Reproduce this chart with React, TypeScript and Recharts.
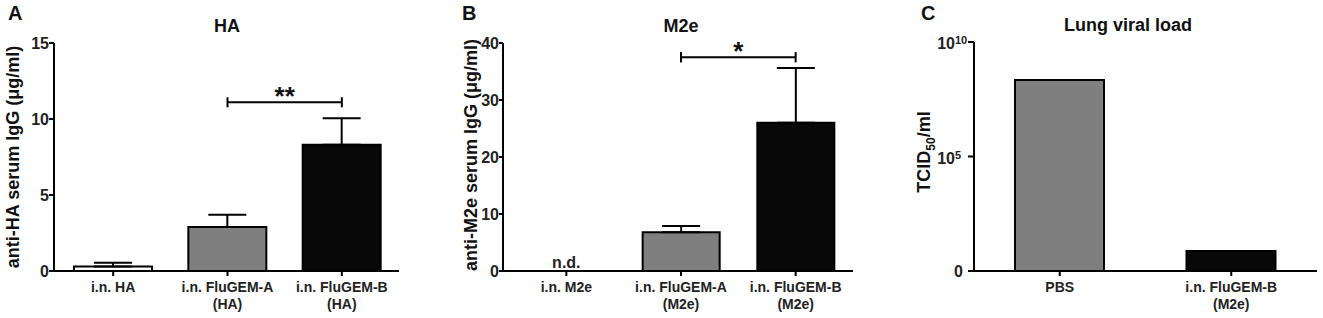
import React from 'react';
import { BarChart, Bar, XAxis, YAxis, Cell, ErrorBar, ReferenceLine, ReferenceDot } from 'recharts';

const FONT = '"Liberation Sans", Arial, Helvetica, sans-serif';

// Panel A – anti-HA serum IgG (µg/ml)
const haCategories = ['i.n. HA', 'i.n. FluGEM-A\n(HA)', 'i.n. FluGEM-B\n(HA)'];
const haMeans = [0.3, 2.9, 8.3];
const haErrors = [0.25, 0.8, 1.75];
const haTicks = [0, 5, 10, 15];
const haBracketLevel = 11.1;

// Panel B – anti-M2e serum IgG (µg/ml); null = not detected
const m2eCategories = ['i.n. M2e', 'i.n. FluGEM-A\n(M2e)', 'i.n. FluGEM-B\n(M2e)'];
const m2eMeans: (number | null)[] = [null, 6.8, 26];
const m2eErrors: (number | null)[] = [null, 1.1, 9.6];
const m2eTicks = [0, 10, 20, 30, 40];
const m2eBracketLevel = 37.5;

// Panel C – lung viral load TCID50/ml
const lungCategories = ['PBS', 'i.n. FluGEM-B\n(M2e)'];
const lungTiters = [2.2e8, 7.5];
const lungTicks = [1, 1e5, 1e10];

const fillsABC = ['#ffffff', '#7f7f7f', '#080808'];
const fillsC = ['#7f7f7f', '#080808'];

const haData = haCategories.map((c, i) => ({ cat: c, v: haMeans[i], err: [0, haErrors[i]] }));
const m2eData = m2eCategories.map((c, i) => ({
  cat: c,
  v: m2eMeans[i],
  err: m2eErrors[i] == null ? null : [0, m2eErrors[i] as number],
}));
const lungData = lungCategories.map((c, i) => ({ cat: c, v: lungTiters[i] }));

const axisStyle = { stroke: '#000', strokeWidth: 2 };

const MultiTick = (props: any) => {
  const { x, y, payload } = props;
  const lines = String(payload.value).split('\n');
  return (
    <text x={x} y={y} textAnchor="middle" fontFamily={FONT} fontWeight="bold" fontSize={14} fill="#222">
      {lines.map((l, i) => (
        <tspan key={i} x={x} dy={i === 0 ? 14 : 17}>
          {l}
        </tspan>
      ))}
    </text>
  );
};

const NumTick = (props: any) => {
  const { x, y, payload } = props;
  return (
    <text x={x} y={y} dy={6} textAnchor="end" fontFamily={FONT} fontWeight="bold" fontSize={16} fill="#222">
      {payload.value}
    </text>
  );
};

const LogTick = (props: any) => {
  const { x, y, payload } = props;
  const v = payload.value as number;
  if (v === 1) {
    return (
      <text x={x - 4} y={y} dy={6} textAnchor="end" fontFamily={FONT} fontWeight="bold" fontSize={16} fill="#222">
        0
      </text>
    );
  }
  const exp = Math.round(Math.log10(v));
  return (
    <g>
      <text x={x - 12} y={y} dy={7} textAnchor="end" fontFamily={FONT} fontWeight="bold" fontSize={16} fill="#222">
        10
      </text>
      <text x={x - 12} y={y} dy={2} textAnchor="start" fontFamily={FONT} fontWeight="bold" fontSize={11} fill="#222">
        {exp}
      </text>
    </g>
  );
};

const starContent = (stars: string) => (props: any) => {
  const vb = props.viewBox || {};
  const cx = (vb.x ?? 0) + (vb.width ?? 0) / 2;
  return (
    <text x={cx} y={(vb.y ?? 0) + 3} textAnchor="middle" fontFamily={FONT} fontWeight="bold" fontSize={26} fill="#111">
      {stars}
    </text>
  );
};

const ndContent = (props: any) => {
  const vb = props.viewBox || {};
  const cx = (vb.x ?? 0) + (vb.width ?? 0) / 2;
  return (
    <text x={cx} y={(vb.y ?? 0) - 3} textAnchor="middle" fontFamily={FONT} fontWeight="bold" fontSize={16} fill="#222">
      n.d.
    </text>
  );
};

const Bracket = ({ a, b, level, half }: { a: string; b: string; level: number; half: number }) => null;

export default function App() {
  const textProps = { fontFamily: FONT, fontWeight: 'bold' as const, fill: '#111' };
  return (
    <div style={{ position: 'absolute', left: 0, top: 0, width: 1323, height: 318, background: '#fff' }}>
      {/* Panel A */}
      <div style={{ position: 'absolute', left: 0, top: 0 }}>
        <BarChart width={440} height={318} data={haData} margin={{ top: 43, right: 41, bottom: 0, left: 0 }}>
          <XAxis dataKey="cat" height={47} axisLine={axisStyle} tickLine={axisStyle} tickSize={5} tickMargin={2} tick={<MultiTick />} interval={0} padding={{ left: 2, right: 0 }} />
          <YAxis width={54} domain={[0, 15]} ticks={haTicks} axisLine={axisStyle} tickLine={axisStyle} tickSize={5} tickMargin={0} tick={<NumTick />} interval={0} />
          <Bar dataKey="v" barSize={78} stroke="#000" strokeWidth={2} isAnimationActive={false}>
            {haData.map((_, i) => (
              <Cell key={i} fill={fillsABC[i]} />
            ))}
            <ErrorBar dataKey="err" width={19} stroke="#000" strokeWidth={2} direction="y" />
          </Bar>
          <ReferenceLine segment={[{ x: haCategories[1], y: haBracketLevel }, { x: haCategories[2], y: haBracketLevel }]} stroke="#000" strokeWidth={2} label={starContent('**')} />
          <ReferenceLine segment={[{ x: haCategories[1], y: haBracketLevel - 0.33 }, { x: haCategories[1], y: haBracketLevel + 0.33 }]} stroke="#000" strokeWidth={2} />
          <ReferenceLine segment={[{ x: haCategories[2], y: haBracketLevel - 0.33 }, { x: haCategories[2], y: haBracketLevel + 0.33 }]} stroke="#000" strokeWidth={2} />
        </BarChart>
      </div>

      {/* Panel B */}
      <div style={{ position: 'absolute', left: 440, top: 0 }}>
        <BarChart width={440} height={318} data={m2eData} margin={{ top: 43, right: 27, bottom: 0, left: 0 }}>
          <XAxis dataKey="cat" height={47} axisLine={axisStyle} tickLine={axisStyle} tickSize={5} tickMargin={2} tick={<MultiTick />} interval={0} padding={{ left: 6, right: 0 }} />
          <YAxis width={63} domain={[0, 40]} ticks={m2eTicks} axisLine={axisStyle} tickLine={axisStyle} tickSize={4} tickMargin={0} tick={<NumTick />} interval={0} />
          <Bar dataKey="v" barSize={77} stroke="#000" strokeWidth={2} isAnimationActive={false}>
            {m2eData.map((_, i) => (
              <Cell key={i} fill={fillsABC[i]} />
            ))}
            <ErrorBar dataKey="err" width={19} stroke="#000" strokeWidth={2} direction="y" />
          </Bar>
          <ReferenceDot x={m2eCategories[0]} y={0} r={0} fill="none" stroke="none" label={ndContent} />
          <ReferenceLine segment={[{ x: m2eCategories[1], y: m2eBracketLevel }, { x: m2eCategories[2], y: m2eBracketLevel }]} stroke="#000" strokeWidth={2} label={starContent('*')} />
          <ReferenceLine segment={[{ x: m2eCategories[1], y: m2eBracketLevel - 0.9 }, { x: m2eCategories[1], y: m2eBracketLevel + 0.9 }]} stroke="#000" strokeWidth={2} />
          <ReferenceLine segment={[{ x: m2eCategories[2], y: m2eBracketLevel - 0.9 }, { x: m2eCategories[2], y: m2eBracketLevel + 0.9 }]} stroke="#000" strokeWidth={2} />
        </BarChart>
      </div>

      {/* Panel C */}
      <div style={{ position: 'absolute', left: 880, top: 0 }}>
        <BarChart width={443} height={318} data={lungData} margin={{ top: 42, right: 6, bottom: 0, left: 0 }}>
          <XAxis dataKey="cat" height={47} axisLine={axisStyle} tickLine={axisStyle} tickSize={5} tickMargin={2} tick={<MultiTick />} interval={0} />
          <YAxis width={94} type="number" scale="log" domain={[1, 1e10]} ticks={lungTicks} allowDataOverflow axisLine={axisStyle} tickLine={axisStyle} tickSize={6} tickMargin={1} tick={<LogTick />} interval={0} />
          <Bar dataKey="v" barSize={89} stroke="#000" strokeWidth={2} isAnimationActive={false}>
            {lungData.map((_, i) => (
              <Cell key={i} fill={fillsC[i]} />
            ))}
          </Bar>
        </BarChart>
      </div>

      {/* Letters, titles and axis titles */}
      <svg width={1323} height={318} style={{ position: 'absolute', left: 0, top: 0, pointerEvents: 'none' }}>
        <text x={8} y={20} fontSize={20} {...textProps}>A</text>
        <text x={462} y={20} fontSize={20} {...textProps}>B</text>
        <text x={921} y={20} fontSize={20} {...textProps}>C</text>

        <text x={227} y={32} fontSize={18} textAnchor="middle" {...textProps}>HA</text>
        <text x={681} y={32} fontSize={18} textAnchor="middle" {...textProps}>M2e</text>
        <text x={1128} y={31} fontSize={18} textAnchor="middle" {...textProps}>Lung viral load</text>

        <text transform="translate(19,157) rotate(-90)" fontSize={18} textAnchor="middle" {...textProps}>
          anti-HA serum IgG (μg/ml)
        </text>
        <text transform="translate(477,155) rotate(-90)" fontSize={18} textAnchor="middle" {...textProps}>
          anti-M2e serum IgG (μg/ml)
        </text>
        <text transform="translate(930,152) rotate(-90)" fontSize={18} textAnchor="middle" {...textProps}>
          TCID<tspan fontSize={12} dy={5}>50</tspan>
          <tspan dy={-5}>/ml</tspan>
        </text>
      </svg>
    </div>
  );
}
